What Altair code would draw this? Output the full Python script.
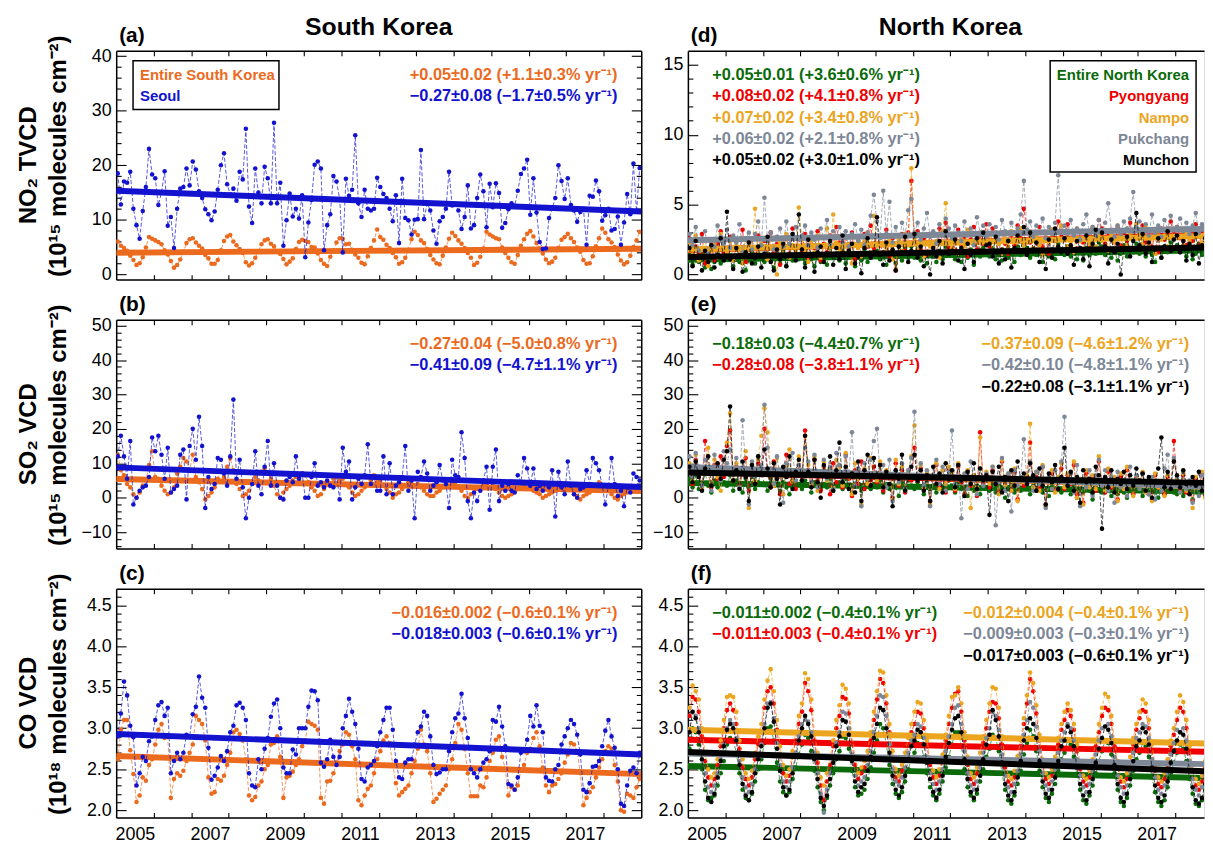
import altair as alt
import pandas as pd

FONT = "Liberation Sans"

# ---------------- time axis ----------------
YEARS = list(range(2005, 2019))
MONTHS = list(range(12))
TIME = [y + (m + 0.5) / 12 for y in YEARS for m in MONTHS]
LABEL_YEARS = [2005, 2007, 2009, 2011, 2013, 2015, 2017]
TICK_YEARS = list(range(2006, 2019))
TREND_T = [2005.0, 2019.0]

# ---------------- colours ----------------
C_SK, C_SE = "#EB6A1E", "#1212CF"
C_NK, C_PY, C_NA, C_PU, C_MU = "#0A6A0A", "#F00000", "#EBA51E", "#7D8796", "#000000"

# ---------------- (a) NO2 South Korea ----------------
SK_NO2 = [
    6.0, 5.2, 4.8, 4.3, 3.4, 2.6, 1.7, 2.0, 3.1, 4.9, 6.8, 6.5,
    6.2, 5.9, 5.5, 4.4, 3.6, 2.4, 1.2, 1.7, 2.7, 4.1, 5.7, 6.4,
    6.6, 5.8, 5.2, 4.7, 3.5, 2.9, 1.9, 1.9, 2.6, 4.4, 6.1, 6.9,
    7.2, 6.0, 5.3, 4.6, 3.9, 2.2, 1.6, 2.0, 3.0, 4.2, 5.5, 6.2,
    6.4, 5.6, 5.1, 4.2, 3.7, 2.8, 1.8, 2.3, 2.9, 4.6, 5.9, 6.3,
    6.1, 5.9, 5.0, 4.9, 3.8, 2.6, 1.9, 1.5, 3.2, 4.3, 5.8, 6.6,
    6.5, 5.5, 5.6, 4.5, 3.6, 3.0, 2.1, 1.8, 3.3, 4.8, 6.2, 8.2,
    6.8, 6.3, 5.4, 4.8, 3.9, 3.1, 1.9, 2.2, 3.0, 4.5, 6.4, 7.8,
    7.2, 6.2, 5.7, 4.6, 3.5, 2.7, 2.0, 1.8, 3.4, 4.9, 6.5, 7.6,
    7.0, 6.2, 5.6, 4.8, 3.9, 3.0, 1.7, 2.1, 3.2, 4.7, 7.8, 7.3,
    6.9, 6.6, 6.4, 4.9, 3.9, 3.0, 2.2, 1.9, 3.5, 5.2, 6.4, 7.4,
    7.9, 6.9, 5.7, 4.7, 3.8, 2.7, 2.0, 2.3, 3.0, 4.8, 6.3, 6.8,
    7.4, 6.6, 5.9, 4.9, 4.1, 2.6, 1.9, 2.0, 3.3, 5.1, 6.6, 8.4,
    7.6, 6.4, 5.8, 5.0, 3.6, 2.5, 1.8, 2.2, 3.4, 5.0, 6.2, 7.8,
]
SEOUL_NO2 = [
    18.5, 12.8, 17.0, 16.8, 18.8, 12.0, 9.0, 6.5, 11.6, 16.0, 23.0, 18.3,
    17.6, 12.7, 15.0, 18.9, 8.9, 10.5, 4.8, 12.0, 15.7, 16.0, 19.4, 16.3,
    20.7, 19.2, 15.2, 14.0, 11.9, 11.0, 9.9, 11.5, 15.5, 20.0, 22.2, 16.5,
    14.6, 15.7, 13.5, 18.8, 17.4, 26.7, 12.4, 9.4, 19.4, 15.0, 13.0, 19.7,
    17.6, 13.0, 27.8, 13.0, 16.8, 5.2, 9.9, 14.8, 10.6, 12.0, 10.2, 14.5,
    3.1, 9.5, 13.6, 20.1, 20.7, 19.4, 4.4, 9.0, 11.0, 18.0, 17.0, 13.8,
    4.0, 17.5, 14.4, 15.5, 25.5, 13.0, 10.5, 15.5, 12.0, 11.7, 12.0, 17.7,
    16.0, 14.7, 14.0, 12.0, 9.7, 14.5, 5.7, 17.5, 10.3, 9.9, 7.3, 10.0,
    10.1, 22.8, 10.1, 13.0, 11.7, 8.0, 5.6, 9.7, 10.5, 12.0, 18.8, 12.6,
    12.9, 11.7, 8.3, 10.5, 16.3, 8.4, 9.0, 14.0, 18.3, 15.2, 8.6, 16.6,
    12.3, 16.7, 14.9, 8.5, 9.4, 11.9, 13.0, 12.5, 15.3, 18.4, 19.4, 21.0,
    10.9, 17.6, 11.3, 5.9, 4.6, 4.7, 10.3, 12.0, 14.0, 20.0, 17.1, 13.8,
    17.6, 12.7, 11.7, 9.6, 11.4, 12.0, 5.4, 14.4, 14.2, 17.2, 15.2, 9.8,
    10.8, 12.0, 8.0, 8.3, 10.6, 5.4, 9.5, 14.7, 11.0, 20.3, 11.5, 19.5,
]

# ---------------- (b) SO2 South Korea ----------------
SK_SO2 = [
    12.5, 8.0, 6.5, 4.0, 3.0, 1.0, 0.0, 1.5, 3.5, 5.0, 9.5, 13.5,
    6.0, 5.5, 3.5, 2.0, 1.0, 1.5, 3.0, 7.0, 9.0, 11.5, 10.5, 8.0,
    12.5, 6.0, 4.5, 2.5, -0.5, 0.5, 1.5, 3.0, 5.5, 7.5, 6.0, 9.0,
    11.5, 8.0, 4.0, 2.5, 0.5, 1.0, 2.0, 4.5, 6.0, 5.0, 7.5, 8.5,
    7.0, 5.5, 3.5, 1.0, 0.0, 1.5, 2.5, 3.5, 5.0, 6.0, 4.5, 7.0,
    6.5, 4.5, 3.0, 2.0, 0.5, 1.0, 2.5, 4.0, 3.5, 5.5, 6.0, 5.0,
    5.5, 4.0, 3.0, 1.5, 0.5, 1.0, 2.0, 3.0, 4.0, 5.0, 6.5, 4.5,
    5.0, 3.5, 2.5, 1.5, 0.0, 1.0, 1.5, 2.5, 3.5, 4.5, 4.0, 5.5,
    4.0, 3.0, 2.0, 1.0, 0.5, 0.5, 1.5, 2.0, 3.0, 4.0, 3.5, 4.5,
    4.5, 3.0, 2.0, 0.5, 0.0, 1.0, 1.5, 2.5, 3.0, 3.5, 4.0, 5.0,
    3.5, 2.5, 1.5, 0.5, 0.0, 0.5, 1.0, 2.0, 2.5, 3.0, 3.5, 4.5,
    3.0, 2.0, 1.5, 1.0, 0.0, 0.5, 1.0, 1.5, 2.0, 3.0, 2.5, 3.5,
    3.0, 2.5, 1.0, 0.5, -0.5, 0.5, 1.0, 1.5, 2.5, 3.0, 4.5, 3.5,
    2.5, 2.0, 1.0, 0.0, -0.5, 0.5, 1.0, 1.5, 2.5, 3.0, 2.0, 2.5,
]
SEOUL_SO2 = [
    12.0, 18.0, 12.0, 5.5, 16.5, -2.0, 0.0, 2.0, 3.0, 3.5, 6.0, 17.5,
    13.5, 18.0, 12.5, 5.5, 14.5, 1.5, 2.5, 3.5, 12.5, 14.0, -0.5, 15.0,
    20.0, 11.0, 23.5, 15.0, -3.0, 6.0, 2.5, 4.0, 11.5, 11.0, 7.0, 3.5,
    12.0, 28.5, 5.5, 11.0, 3.0, -6.0, 0.0, 4.0, 13.5, 3.5, 1.0, 9.0,
    16.5, 3.5, 10.0, 3.5, 0.0, -0.5, 5.0, 6.0, 4.5, 12.0, 5.5, 7.0,
    0.0, 0.0, 6.0, 10.0, 3.5, 4.5, 3.0, 5.0, 3.5, 3.0, 6.5, -0.5,
    14.5, 7.5, 10.5, -0.5, 3.0, 5.5, 4.0, 6.5, 15.5, 4.0, 6.0, 2.0,
    2.0, 12.0, 1.0, 10.0, 1.0, 3.5, 4.5, 6.0, 15.0, 2.0, 5.0, -6.0,
    7.5, 6.0, 10.5, 7.0, 2.0, 3.5, 4.5, 9.5, 5.0, 4.0, -3.0, 11.0,
    6.5, 6.0, 19.0, 11.5, -1.0, -6.0, 1.5, -1.0, 2.0, 5.0, 9.0, -3.5,
    9.0, 14.0, -1.0, 3.5, 2.0, 4.0, 2.0, 1.5, 6.5, 4.5, 11.5, 8.5,
    3.5, 8.5, 2.5, 3.5, 2.0, 4.0, 3.0, 8.0, -5.5, 7.5, 3.0, 1.0,
    10.5, 3.5, 1.0, 0.0, 2.5, 3.0, 8.0, 4.0, 11.5, 10.0, 8.0, 3.5,
    -2.0, 3.5, 11.5, 4.0, 0.5, 2.0, -2.5, 3.0, 1.5, 7.0, 6.0, 5.0,
]

# ---------------- (c) CO South Korea ----------------
SK_CO = [
    2.62, 2.98, 3.10, 3.10, 2.73, 2.44, 2.10, 2.18, 2.40, 2.36, 2.55, 2.62,
    2.80, 2.98, 3.05, 2.88, 2.90, 2.15, 2.38, 2.45, 2.42, 2.48, 2.60, 2.70,
    2.80, 3.15, 3.10, 3.05, 2.85, 2.40, 2.20, 2.22, 2.38, 2.36, 2.42, 2.55,
    2.70, 2.95, 2.98, 2.93, 2.85, 2.62, 2.18, 2.12, 2.16, 2.30, 2.35, 2.50,
    2.55, 2.80, 2.82, 2.90, 2.65, 2.15, 2.40, 2.42, 2.47, 2.55, 2.62, 2.78,
    2.85, 3.08, 3.05, 3.03, 2.98, 2.15, 2.08, 2.35, 2.36, 2.45, 2.58, 2.72,
    2.80, 2.95, 2.92, 2.78, 2.62, 2.12, 2.06, 2.18, 2.26, 2.30, 2.45, 2.62,
    2.72, 2.85, 2.90, 2.82, 2.55, 2.33, 2.18, 2.22, 2.26, 2.30, 2.45, 2.60,
    2.75, 2.98, 2.80, 2.72, 2.45, 2.10, 2.14, 2.20, 2.25, 2.30, 2.50, 2.62,
    2.82, 3.05, 2.98, 2.75, 2.45, 2.17, 2.17, 2.17, 2.30, 2.28, 2.40, 2.60,
    2.70, 2.86, 2.90, 2.65, 2.50, 2.18, 2.28, 2.25, 2.30, 2.48, 2.55, 2.70,
    2.75, 2.88, 2.95, 2.78, 2.52, 2.30, 2.22, 2.30, 2.32, 2.38, 2.45, 2.58,
    2.68, 2.82, 2.80, 2.72, 2.45, 2.06, 2.15, 2.22, 2.28, 2.40, 2.52, 2.62,
    2.72, 2.78, 2.75, 2.55, 2.35, 2.00, 1.98, 2.20, 2.18, 2.15, 2.28, 2.38,
]
SEOUL_CO = [
    2.90, 3.18, 3.57, 3.40, 3.03, 2.89, 2.30, 2.45, 2.65, 2.60, 2.84, 2.90,
    3.10, 3.28, 3.32, 3.15, 3.25, 2.45, 2.60, 2.70, 2.62, 2.70, 2.92, 2.90,
    3.17, 3.26, 3.63, 3.37, 3.25, 2.76, 2.37, 2.42, 2.52, 2.66, 2.60, 2.72,
    2.95, 3.03, 3.28, 3.31, 3.25, 3.10, 2.45, 2.30, 2.28, 2.62, 2.50, 2.75,
    2.88, 3.14, 3.30, 3.35, 3.00, 2.52, 2.45, 2.45, 2.74, 2.68, 3.00, 3.00,
    3.00, 3.26, 3.46, 3.45, 3.34, 2.58, 2.53, 2.62, 2.86, 2.65, 2.55, 2.65,
    3.00, 3.15, 3.36, 3.20, 3.05, 2.75, 2.38, 2.35, 2.52, 2.55, 2.60, 2.78,
    2.95, 3.10, 3.25, 3.25, 2.98, 2.60, 2.40, 2.38, 2.58, 2.62, 2.62, 2.80,
    2.95, 3.02, 3.20, 3.15, 2.90, 2.55, 2.44, 2.46, 2.50, 2.50, 2.72, 2.95,
    3.12, 3.18, 3.42, 3.12, 2.88, 2.50, 2.45, 2.40, 2.50, 2.58, 2.62, 2.72,
    3.10, 3.08, 3.26, 3.02, 2.78, 2.32, 2.30, 2.25, 2.40, 2.70, 2.72, 2.86,
    3.15, 3.02, 3.28, 3.03, 2.95, 2.40, 2.36, 2.35, 2.50, 2.55, 2.80, 2.90,
    3.00, 3.10, 3.05, 2.92, 2.68, 2.25, 2.22, 2.33, 2.53, 2.54, 2.60, 2.78,
    2.97, 3.10, 2.90, 2.76, 2.50, 2.08, 2.05, 2.30, 2.48, 2.52, 2.45, 2.70,
]

# ---------------- (d) NO2 North Korea ----------------
NK_NO2 = [
    1.4, 0.7, 1.3, 0.9, 1.6, 0.5, 1.1, 0.4, 0.9, 1.5, 0.8, 1.7,
    1.2, 1.8, 0.6, 1.3, 0.9, 1.4, 0.3, 1.0, 1.6, 0.8, 1.3, 1.9,
    0.9, 1.5, 1.2, 0.5, 1.4, 0.8, 1.7, 0.6, 1.2, 1.0, 1.8, 1.1,
    1.6, 0.8, 1.4, 1.1, 0.6, 1.5, 0.9, 1.3, 0.7, 1.9, 1.2, 1.5,
    1.0, 1.7, 0.8, 1.5, 1.2, 0.6, 1.4, 1.0, 1.8, 0.9, 1.6, 1.3,
    1.7, 1.1, 1.5, 0.7, 1.3, 1.6, 0.8, 1.4, 1.0, 1.9, 1.2, 2.0,
    1.2, 1.8, 1.0, 1.5, 0.8, 1.6, 1.3, 0.9, 1.7, 1.1, 2.0, 1.4,
    1.8, 1.1, 1.6, 0.9, 1.4, 1.2, 1.8, 0.7, 1.5, 1.3, 1.9, 1.6,
    1.3, 1.9, 1.1, 1.6, 1.0, 1.7, 1.2, 1.5, 0.9, 2.0, 1.4, 2.1,
    1.9, 1.2, 1.7, 1.4, 2.1, 0.9, 1.6, 1.3, 1.8, 1.1, 2.2, 1.5,
    1.4, 2.0, 1.3, 1.8, 1.1, 1.6, 1.0, 1.9, 1.4, 2.1, 1.5, 2.3,
    2.0, 1.4, 1.8, 1.2, 1.7, 1.0, 1.5, 2.1, 1.3, 1.9, 1.6, 2.2,
    1.5, 2.1, 1.3, 1.9, 1.4, 0.9, 1.8, 1.2, 2.0, 1.6, 2.3, 1.7,
    2.1, 1.6, 1.9, 1.3, 1.8, 1.1, 1.5, 2.2, 1.4, 1.9, 1.7, 2.4,
]
PY_NO2 = [
    2.6, 1.2, 2.0, 1.5, 2.9, 0.8, 1.7, 2.3, 1.0, 2.2, 3.1, 1.6,
    1.9, 2.7, 1.1, 2.4, 1.4, 3.2, 0.9, 1.8, 2.5, 1.3, 2.8, 2.0,
    2.4, 1.3, 3.0, 1.6, 2.2, 0.7, 1.9, 2.7, 1.5, 3.3, 1.8, 2.6,
    1.7, 2.9, 1.2, 2.5, 1.9, 3.1, 1.0, 2.2, 1.6, 2.8, 2.1, 3.4,
    2.3, 1.5, 2.7, 1.8, 3.0, 1.1, 2.4, 1.4, 2.9, 2.0, 3.5, 1.9,
    2.8, 2.1, 1.6, 3.2, 1.3, 2.6, 0.3, 2.0, 2.9, 1.7, 3.0, 6.7,
    2.2, 3.1, 1.8, 2.6, 1.4, 2.9, 2.0, 1.5, 3.3, 2.3, 3.7, 1.9,
    2.9, 1.7, 3.2, 2.1, 2.7, 1.3, 2.5, 3.4, 1.8, 2.8, 2.2, 3.6,
    2.0, 3.3, 2.4, 1.6, 3.0, 2.2, 1.5, 2.8, 2.1, 3.5, 2.6, 4.7,
    3.1, 2.3, 2.9, 1.8, 3.4, 2.0, 2.6, 1.5, 3.2, 2.4, 3.8, 2.7,
    2.5, 3.6, 2.0, 2.9, 1.7, 3.1, 2.3, 2.7, 1.9, 3.3, 2.8, 3.9,
    3.3, 2.2, 3.0, 2.5, 1.8, 3.4, 2.1, 2.9, 2.4, 3.7, 2.6, 3.2,
    2.7, 3.5, 2.3, 3.1, 2.0, 2.8, 1.6, 3.3, 2.5, 3.0, 3.8, 2.9,
    3.4, 2.6, 3.2, 2.1, 2.9, 2.4, 3.6, 2.0, 3.1, 2.7, 3.5, 4.0,
]
NA_NO2 = [
    2.3, 1.4, 2.8, 1.0, 1.9, 2.5, 0.6, 1.7, 2.2, 1.2, 2.9, 1.8,
    1.6, 2.4, 1.0, 2.1, 1.7, 0.8, 2.6, 1.3, 1.9, 4.7, 1.5, 2.2,
    2.0, 1.1, 2.6, 1.8, 0.0, 2.3, 1.5, 2.9, 1.2, 2.1, 1.7, 4.8,
    2.5, 1.7, 0.9, 2.4, 1.6, 2.8, 1.2, 2.0, 3.3, 1.4, 4.3, 2.3,
    1.8, 2.6, 1.4, 2.1, 0.8, 2.7, 1.9, 1.3, 2.4, 3.0, 1.6, 4.2,
    2.2, 1.5, 2.8, 1.9, 2.4, 1.1, 0.4, 2.5, 1.7, 2.9, 2.1, 7.6,
    2.6, 1.8, 2.3, 1.3, 2.9, 2.0, 1.6, 2.4, 1.2, 3.1, 5.1, 2.2,
    1.9, 2.7, 1.5, 2.5, 2.0, 3.2, 1.4, 2.2, 2.8, 1.7, 3.0, 2.4,
    2.8, 1.6, 3.0, 2.2, 1.5, 2.6, 2.0, 3.1, 1.8, 2.5, 3.3, 2.1,
    2.3, 3.1, 1.9, 2.7, 2.1, 1.4, 2.9, 2.3, 3.2, 1.7, 2.6, 3.5,
    3.0, 2.0, 2.5, 1.6, 3.3, 2.4, 1.8, 2.7, 2.2, 3.4, 2.0, 2.9,
    2.4, 3.2, 1.7, 2.9, 2.3, 3.5, 1.9, 2.6, 2.1, 3.0, 2.7, 3.6,
    2.9, 2.2, 3.4, 2.0, 2.6, 1.5, 3.1, 2.5, 2.8, 2.0, 3.3, 2.6,
    2.6, 3.3, 2.1, 3.0, 2.4, 1.9, 2.8, 3.2, 2.3, 3.5, 2.7, 3.1,
]
PU_NO2 = [
    2.9, 2.1, 3.4, 1.7, 2.6, 3.1, 1.5, 2.4, 2.0, 3.5, 2.7, 2.2,
    3.2, 1.9, 2.8, 2.3, 3.6, 1.6, 2.5, 3.0, 1.8, 2.9, 3.8, 2.1,
    5.5, 2.4, 3.0, 1.8, 2.7, 3.3, 2.0, 3.8, 2.2, 2.9, 3.4, 2.5,
    2.8, 3.5, 2.1, 3.0, 2.5, 1.9, 3.3, 2.6, 3.9, 2.2, 3.1, 2.7,
    3.4, 2.3, 3.1, 2.0, 2.9, 3.6, 2.4, 3.2, 2.1, 3.0, 4.2, 5.7,
    3.8, 2.6, 6.0, 2.9, 5.2, 2.3, 3.4, 2.0, 3.7, 2.8, 4.6, 5.4,
    3.0, 3.7, 2.5, 3.3, 4.4, 2.7, 3.1, 2.2, 3.6, 2.9, 4.0, 3.3,
    2.6, 3.5, 3.0, 2.4, 3.8, 2.8, 3.3, 2.1, 4.1, 3.0, 3.5, 2.7,
    3.6, 2.9, 3.4, 2.5, 3.9, 3.1, 2.4, 3.7, 2.9, 3.3, 4.3, 6.7,
    3.2, 3.8, 2.7, 3.5, 3.0, 4.0, 2.6, 3.4, 2.9, 3.7, 7.1, 3.1,
    3.5, 2.9, 3.9, 2.8, 3.3, 2.5, 3.6, 4.3, 3.0, 3.4, 2.8, 3.9,
    3.0, 3.7, 5.1, 3.2, 2.7, 3.5, 2.9, 3.8, 3.3, 4.0, 5.9, 3.4,
    3.8, 3.1, 3.6, 2.8, 4.3, 3.0, 3.5, 2.7, 3.9, 3.3, 4.2, 3.2,
    3.4, 4.0, 3.1, 3.7, 2.9, 3.5, 4.4, 3.0, 3.6, 3.2, 4.1, 3.8,
]
MU_NO2 = [
    1.9, 0.6, 2.4, 1.2, 0.3, 1.7, 0.9, 2.1, 0.5, 1.4, 2.6, 1.0,
    4.5, 1.1, 0.4, 1.9, 1.3, 0.2, 1.6, 2.3, 0.8, 1.2, 2.0, 0.5,
    1.5, 2.7, 0.9, 0.3, 1.8, 1.1, 2.2, 0.6, 1.4, 2.9, 1.0, 4.3,
    1.8, 0.5, 2.5, 1.3, 0.2, 1.6, 2.0, 0.9, 1.5, 2.4, 0.7, 1.9,
    1.1, 2.8, 0.4, 1.7, 2.2, 0.8, 1.3, 0.1, 1.9, 2.6, 1.2, 1.6,
    4.1, 1.4, 0.7, 2.3, 1.0, 1.8, 0.3, 2.0, 1.5, 2.7, 0.9, 1.7,
    2.9, 1.2, 2.0, 0.6, 1.6, 0.0, 1.9, 1.3, 2.4, 0.8, 3.1, 1.5,
    1.7, 2.5, 1.0, 1.9, 0.4, 2.2, 1.4, 0.9, 2.6, 1.6, 3.0, 2.1,
    2.2, 1.3, 2.7, 0.8, 1.8, 1.1, 2.4, 0.5, 1.9, 2.8, 1.6, 3.4,
    1.4, 3.0, 1.8, 2.3, 0.9, 1.7, 0.4, 2.5, 1.2, 3.3, 2.0, 1.6,
    2.6, 1.5, 2.1, 0.7, 2.4, 1.9, 1.1, 2.8, 0.6, 2.2, 3.2, 1.8,
    3.0, 2.0, 0.8, 2.5, 1.6, 2.2, 0.0, 1.8, 2.7, 1.3, 2.4, 4.4,
    2.1, 2.9, 1.5, 2.3, 0.9, 1.8, 2.6, 1.2, 2.0, 3.1, 1.7, 2.5,
    2.8, 1.6, 2.4, 1.0, 2.2, 1.4, 2.9, 0.8, 2.1, 2.6, 1.9, 3.3,
]

# ---------------- (e) SO2 North Korea ----------------
NK_SO2 = [
    5.5, 3.0, 6.5, 2.5, 4.0, 7.0, 3.5, 1.5, 5.0, 3.0, 6.0, 4.5,
    3.5, 6.5, 2.0, 5.0, 4.0, 1.5, 5.5, 3.0, 6.0, 2.5, 4.5, 7.5,
    4.0, 2.0, 5.5, 3.5, 6.0, 2.0, 4.5, 3.0, 1.0, 5.0, 3.5, 6.5,
    2.5, 5.0, 3.5, 1.5, 4.5, 6.0, 2.5, 4.0, 3.0, 5.5, 2.0, 4.0,
    4.5, 2.5, 5.5, 3.0, 1.5, 4.0, 6.0, 2.0, 3.5, 5.0, 2.5, 4.0,
    3.0, 5.0, 1.5, 4.0, 2.5, 5.5, 3.0, 0.5, 4.5, 2.0, 5.0, 3.5,
    2.5, 4.5, 3.0, 1.0, 5.0, 2.5, 3.5, 1.5, 4.0, 3.0, 2.0, 5.0,
    3.5, 1.5, 4.5, 2.5, 3.0, 0.5, 4.0, 2.0, 3.5, 1.0, 4.5, 3.0,
    2.0, 4.0, 1.5, 3.5, 2.5, 0.0, 3.0, 4.5, 1.5, 3.0, 2.0, 4.0,
    3.0, 1.0, 3.5, 2.0, 4.0, 1.5, 2.5, 0.5, 3.5, 2.5, 4.5, 1.5,
    2.5, 3.5, 1.0, 3.0, 0.0, 2.5, 1.5, 3.5, 2.0, -0.5, 3.0, 2.0,
    1.5, 3.0, 2.0, 0.5, 2.5, 1.0, 3.5, 1.5, 0.0, 2.5, 1.5, 3.0,
    2.5, 0.5, 2.0, 1.0, 3.0, 1.5, 0.0, 2.5, 1.0, 2.0, 3.5, 1.5,
    1.0, 2.5, 0.5, 2.0, 1.5, -0.5, 2.5, 1.0, 3.0, 0.5, 2.0, 1.5,
]
PY_SO2 = [
    8.5, 4.0, 11.0, 6.0, 2.5, 16.5, 7.5, 3.0, 9.5, 5.5, 12.0, 6.0,
    15.0, 19.5, 5.0, 9.0, 3.5, 7.0, 11.5, 2.0, 8.0, 4.5, 10.0, 6.5,
    20.0, 7.5, 3.0, 10.5, 5.5, 1.0, 8.5, 12.5, 4.0, 7.0, 2.5, 9.5,
    6.0, 19.5, 8.0, 3.5, 11.0, 5.0, 2.0, 9.0, 6.5, 1.0, 10.0, 4.5,
    7.5, 3.0, 12.5, 5.5, 0.5, 8.0, 4.0, 10.5, 2.5, 7.0, 5.0, 9.0,
    4.5, 9.5, 2.0, 7.5, 6.0, 0.0, 10.0, 3.5, 8.0, 1.5, 6.5, 5.0,
    14.5, 5.0, 8.5, 2.5, 7.0, -1.0, 5.5, 9.5, 3.0, 6.0, 1.5, 8.0,
    6.5, 2.0, 9.0, 4.5, 1.0, 7.5, 3.5, 5.5, 0.5, 19.0, 4.0, 6.0,
    3.0, 8.0, 5.0, 1.5, 10.5, 4.0, 6.5, 2.0, 7.5, -0.5, 5.0, 3.5,
    5.5, 16.0, 2.5, 6.0, 3.0, 9.0, -2.0, 4.5, 7.0, 2.0, 5.5, 8.5,
    2.5, 6.5, 4.0, 9.5, 1.0, 5.0, -1.5, 7.0, 3.5, 6.0, 2.0, 10.5,
    4.5, 1.5, 7.5, 3.0, 5.5, -0.5, 6.0, 2.5, 8.0, 4.0, 1.0, 5.5,
    3.5, 7.0, 2.0, 5.0, -0.5, 6.5, 3.0, 4.5, 1.0, 6.0, 2.5, 16.5,
    5.0, 2.0, 6.5, 1.5, 4.0, -1.0, 5.5, 3.0, 7.0, 0.5, 4.5, 2.5,
]
NA_SO2 = [
    10.0, 5.0, 12.5, 7.0, 3.0, 9.0, 14.5, 4.5, 11.0, 6.0, 2.0, 8.5,
    16.0, 24.5, 6.5, 10.0, 3.0, 8.0, 13.5, -3.0, 9.5, 5.0, 11.0, 18.0,
    26.0, 19.0, 7.5, 3.5, 11.5, 6.0, 1.0, 9.0, 14.0, 4.5, 8.0, 12.0,
    7.0, 18.0, 9.5, 4.0, 12.0, 2.0, 6.5, 10.5, 5.0, 8.5, 3.0, 11.0,
    9.0, 3.5, 13.0, 6.0, 1.0, 10.0, 5.5, -2.0, 8.5, 4.0, 11.5, 7.0,
    5.0, 10.5, 3.0, 8.0, 6.5, -0.5, 11.0, 4.0, 9.0, 2.0, 7.5, 12.0,
    21.0, 6.0, 9.5, 3.0, 7.5, -2.0, 6.0, 10.0, 2.5, 8.0, 4.0, 9.0,
    7.0, 2.5, 10.0, 5.0, 0.5, 8.0, -3.0, 6.5, 3.0, 17.5, 5.0, 7.5,
    4.0, 9.0, 5.5, 1.0, 11.0, 3.5, 7.0, 2.0, 8.5, -1.0, 6.0, 4.5,
    6.5, 21.5, 3.0, 7.5, 2.0, 9.5, -2.5, 5.0, 8.0, 1.5, 6.0, 10.0,
    3.0, 7.0, 4.5, 10.5, 0.0, 5.5, -2.0, 8.0, 3.0, 6.5, 2.5, 12.0,
    5.0, 2.0, 8.5, 3.5, 6.0, -1.0, 7.0, 2.5, 9.0, 4.0, 0.5, 6.0,
    4.0, 7.5, 1.5, 5.5, -1.0, 7.0, 3.0, 5.0, 0.5, 6.5, 3.5, 11.0,
    5.5, 1.5, 7.0, 2.0, 4.5, -3.0, 6.0, 3.0, 7.5, 0.0, 5.0, 2.5,
]
PU_SO2 = [
    12.0, 6.0, 13.0, 8.0, 3.5, 11.0, 7.5, 2.0, 12.5, 9.0, 5.0, 13.5,
    10.0, 14.0, 6.5, 11.5, 3.0, 22.5, 8.0, -2.0, 10.5, 6.0, 12.0, 9.5,
    27.0, 14.5, 8.5, 4.0, 12.0, 6.5, -1.5, 10.0, 7.0, 13.0, 5.0, 9.5,
    8.0, 14.5, 10.5, 4.5, 12.5, 3.0, 7.0, 11.0, 5.5, 9.0, 2.5, 13.0,
    9.5, 5.0, 12.0, 6.5, 19.0, 3.5, 8.5, -2.5, 10.0, 5.5, 11.0, 16.5,
    20.0, 6.5, 9.5, 3.0, 11.0, -1.0, 7.5, 4.5, 10.0, 2.5, 8.0, 11.5,
    25.0, 5.5, 10.0, 3.5, 8.0, -2.5, 6.5, 11.0, 4.0, 9.0, 2.0, 7.5,
    19.5, 4.0, 9.5, -6.0, 7.0, 2.5, 10.5, 5.0, 1.0, 8.5, 3.5, 7.0,
    6.0, 9.0, -8.0, 4.5, 11.5, 2.0, 7.0, -4.0, 8.0, 3.5, 6.0, 17.0,
    5.0, 10.5, 2.0, 7.5, 4.0, 9.0, -3.0, 6.0, 2.5, 8.0, 4.5, 10.5,
    23.5, 4.0, 7.0, 1.5, 9.5, -2.5, 5.5, 3.0, 8.0, 0.5, 6.5, 11.0,
    3.5, 8.0, 2.0, 6.0, -1.5, 7.5, 3.0, 5.0, 0.5, 9.0, 4.0, 6.5,
    2.5, 7.0, 4.0, 1.0, 6.0, -0.5, 5.0, 2.0, 8.5, 12.5, 3.5, 11.5,
    6.0, 1.5, 7.5, 2.5, 5.0, -1.5, 4.0, 0.5, 6.5, 3.0, 5.5, 2.0,
]
MU_SO2 = [
    9.0, 4.5, 10.5, 6.0, 2.0, 8.5, 12.0, 3.5, 7.0, 10.0, 5.5, 11.0,
    13.5, 26.5, 5.0, 8.0, 2.5, 10.5, 6.0, -1.0, 9.5, 4.0, 12.0, 7.0,
    14.0, 8.5, 3.0, 10.0, 5.5, -2.0, 9.0, 6.0, 12.0, 2.5, 7.5, 11.0,
    5.0, 18.0, 7.5, 3.0, 11.0, 4.5, 0.0, 9.5, 6.0, 12.0, 2.0, 8.0,
    16.0, 4.5, 9.0, 2.5, 7.0, 1.5, 10.5, -1.0, 8.0, 12.5, 3.5, 11.5,
    6.5, 9.5, 3.0, 7.5, 4.0, -2.5, 8.0, 5.5, 12.5, 2.0, 6.0, 9.0,
    12.5, 5.0, 8.0, 2.0, 6.5, -1.0, 9.0, 4.0, 7.0, 1.5, 10.0, 5.5,
    8.0, 3.0, 9.5, 5.0, 0.5, 7.5, 4.0, 10.0, 2.5, 8.5, 5.0, 6.5,
    -5.0, 7.5, 4.0, 9.0, 1.5, 6.0, -1.0, 8.0, 3.5, 10.5, 5.5, 7.0,
    4.0, 10.0, 6.5, 2.0, 8.5, 3.5, -2.0, 7.0, 4.5, 9.5, 2.5, 6.0,
    14.5, 3.5, 7.5, 2.0, 6.0, -1.5, 8.0, 4.5, 5.5, 1.5, 9.0, 6.5,
    -9.0, 6.0, 3.0, 8.0, 1.5, 5.5, 4.0, 7.5, 2.5, 6.5, 3.5, 8.5,
    5.0, 7.0, 2.0, 6.0, 0.0, 4.5, 8.5, 17.5, 3.0, 7.5, 2.5, 10.5,
    6.5, 3.0, 8.0, 4.0, 1.0, 6.0, 3.5, 7.5, 2.0, 5.5, 4.0, 7.0,
]

# ---------------- (f) CO North Korea ----------------
NK_CO = [
    2.75, 3.00, 2.95, 2.80, 2.50, 2.25, 2.12, 2.15, 2.18, 2.30, 2.45, 2.60,
    2.80, 2.88, 2.85, 2.70, 2.45, 2.25, 2.15, 2.12, 2.20, 2.35, 2.50, 2.62,
    2.82, 3.00, 3.02, 2.85, 2.58, 2.35, 2.22, 2.18, 2.22, 2.38, 2.52, 2.68,
    2.80, 2.92, 2.88, 2.72, 2.48, 2.28, 2.10, 2.00, 2.15, 2.30, 2.45, 2.62,
    2.72, 2.90, 2.88, 2.75, 2.48, 2.28, 2.18, 2.20, 2.25, 2.38, 2.52, 2.70,
    2.85, 3.05, 3.00, 2.80, 2.55, 2.32, 2.20, 2.15, 2.22, 2.35, 2.50, 2.62,
    2.70, 2.82, 2.80, 2.65, 2.45, 2.28, 2.18, 2.12, 2.20, 2.35, 2.52, 2.65,
    2.80, 2.95, 2.95, 2.78, 2.50, 2.28, 2.18, 2.12, 2.20, 2.35, 2.50, 2.65,
    2.75, 2.92, 2.88, 2.72, 2.45, 2.25, 2.12, 2.08, 2.18, 2.32, 2.48, 2.68,
    2.82, 2.98, 2.90, 2.72, 2.48, 2.28, 2.15, 2.10, 2.20, 2.32, 2.48, 2.62,
    2.70, 2.85, 2.80, 2.65, 2.42, 2.25, 2.12, 2.08, 2.18, 2.30, 2.45, 2.60,
    2.72, 2.85, 2.82, 2.68, 2.45, 2.25, 2.10, 2.05, 2.15, 2.30, 2.48, 2.62,
    2.70, 2.82, 2.78, 2.65, 2.40, 2.22, 2.10, 2.05, 2.12, 2.28, 2.45, 2.58,
    2.70, 2.80, 2.75, 2.60, 2.38, 2.20, 2.08, 2.05, 2.12, 2.25, 2.42, 2.55,
]
PY_CO = [
    3.15, 3.38, 3.35, 3.20, 2.90, 2.60, 2.40, 2.30, 2.38, 2.55, 2.78, 3.00,
    3.22, 3.30, 3.22, 3.05, 2.75, 2.52, 2.38, 2.30, 2.40, 2.62, 2.80, 2.95,
    3.25, 3.45, 3.50, 3.30, 2.98, 2.68, 2.45, 2.35, 2.42, 2.65, 2.85, 3.05,
    3.20, 3.55, 3.45, 3.22, 2.85, 2.58, 2.30, 2.12, 2.35, 2.55, 2.78, 3.00,
    3.15, 3.38, 3.36, 3.18, 2.82, 2.55, 2.38, 2.45, 2.52, 2.65, 2.85, 3.10,
    3.35, 3.60, 3.55, 3.30, 2.95, 2.62, 2.40, 2.35, 2.48, 2.62, 2.80, 2.95,
    3.05, 3.20, 3.18, 3.00, 2.78, 2.55, 2.40, 2.32, 2.42, 2.60, 2.85, 3.05,
    3.25, 3.42, 3.45, 3.20, 2.85, 2.55, 2.38, 2.32, 2.45, 2.62, 2.82, 3.00,
    3.20, 3.32, 3.30, 3.12, 2.80, 2.52, 2.35, 2.30, 2.40, 2.58, 2.78, 3.05,
    3.30, 3.60, 3.45, 3.18, 2.85, 2.55, 2.38, 2.32, 2.42, 2.58, 2.80, 2.98,
    3.10, 3.22, 3.15, 2.98, 2.72, 2.50, 2.35, 2.30, 2.40, 2.55, 2.78, 2.95,
    3.15, 3.25, 3.22, 3.05, 2.78, 2.52, 2.35, 2.28, 2.38, 2.58, 2.80, 2.98,
    3.12, 3.22, 3.20, 3.00, 2.72, 2.48, 2.32, 2.28, 2.38, 2.55, 2.78, 2.92,
    3.10, 3.25, 3.20, 3.00, 2.70, 2.48, 2.30, 2.25, 2.35, 2.52, 2.72, 2.88,
]
NA_CO = [
    3.25, 3.52, 3.45, 3.35, 3.00, 2.70, 2.50, 2.40, 2.45, 2.62, 2.85, 3.10,
    3.38, 3.40, 3.38, 3.20, 2.85, 2.62, 2.45, 2.38, 2.48, 2.70, 2.90, 3.05,
    3.35, 3.58, 3.72, 3.45, 3.10, 2.78, 2.55, 2.42, 2.50, 2.72, 2.95, 3.15,
    3.30, 3.67, 3.60, 3.35, 2.95, 2.70, 2.40, 2.30, 2.45, 2.65, 2.85, 3.10,
    3.28, 3.53, 3.48, 3.30, 2.92, 2.65, 2.45, 2.52, 2.60, 2.72, 2.95, 3.20,
    3.45, 3.70, 3.68, 3.40, 3.05, 2.72, 2.50, 2.42, 2.55, 2.70, 2.88, 3.05,
    3.20, 3.32, 3.30, 3.10, 2.85, 2.62, 2.48, 2.40, 2.50, 2.68, 2.92, 3.15,
    3.38, 3.40, 3.50, 3.30, 2.95, 2.65, 2.45, 2.40, 2.52, 2.70, 2.90, 3.10,
    3.30, 3.50, 3.48, 3.25, 2.90, 2.62, 2.42, 2.38, 2.48, 2.66, 2.85, 3.12,
    3.40, 3.68, 3.55, 3.28, 2.92, 2.62, 2.45, 2.40, 2.50, 2.65, 2.88, 3.05,
    3.20, 3.30, 3.22, 3.05, 2.80, 2.58, 2.42, 2.38, 2.48, 2.62, 2.85, 3.05,
    3.25, 3.42, 3.38, 3.15, 2.85, 2.60, 2.40, 2.35, 2.45, 2.65, 2.88, 3.05,
    3.20, 3.35, 3.30, 3.10, 2.80, 2.55, 2.40, 2.35, 2.45, 2.62, 2.85, 3.00,
    3.20, 3.40, 3.32, 3.10, 2.78, 2.55, 2.38, 2.32, 2.42, 2.60, 2.80, 2.95,
]
PU_CO = [
    2.95, 3.20, 3.15, 3.00, 2.70, 2.45, 2.28, 2.22, 2.30, 2.45, 2.62, 2.80,
    3.00, 3.10, 3.05, 2.88, 2.60, 2.40, 2.28, 2.22, 2.32, 2.50, 2.65, 2.80,
    3.05, 3.30, 3.32, 3.12, 2.82, 2.55, 2.35, 2.28, 2.35, 2.52, 2.70, 2.90,
    3.05, 3.10, 3.08, 2.95, 2.70, 2.45, 2.20, 1.97, 2.25, 2.45, 2.62, 2.82,
    2.95, 3.20, 3.18, 3.00, 2.68, 2.42, 2.30, 2.35, 2.40, 2.55, 2.72, 2.95,
    3.15, 3.40, 3.38, 3.15, 2.80, 2.50, 2.35, 2.30, 2.40, 2.52, 2.70, 2.85,
    2.92, 3.05, 3.02, 2.88, 2.65, 2.45, 2.32, 2.25, 2.35, 2.50, 2.72, 2.90,
    3.05, 3.25, 3.28, 3.05, 2.72, 2.45, 2.30, 2.25, 2.35, 2.52, 2.70, 2.88,
    3.00, 3.20, 3.15, 2.98, 2.68, 2.42, 2.28, 2.22, 2.32, 2.48, 2.68, 2.92,
    3.10, 3.32, 3.25, 3.02, 2.72, 2.45, 2.30, 2.25, 2.35, 2.50, 2.70, 2.85,
    2.95, 3.05, 3.00, 2.85, 2.62, 2.42, 2.28, 2.22, 2.32, 2.48, 2.68, 2.85,
    3.00, 3.02, 3.05, 2.90, 2.65, 2.42, 2.28, 2.20, 2.30, 2.48, 2.70, 2.88,
    2.95, 3.05, 3.02, 2.88, 2.62, 2.40, 2.25, 2.20, 2.30, 2.45, 2.68, 2.82,
    2.98, 2.95, 3.00, 2.85, 2.60, 2.38, 2.25, 2.18, 2.28, 2.42, 2.62, 2.78,
]
MU_CO = [
    2.95, 3.20, 3.12, 2.95, 2.62, 2.35, 2.15, 2.10, 2.20, 2.40, 2.60, 2.78,
    2.98, 3.05, 3.00, 2.85, 2.55, 2.32, 2.18, 2.12, 2.22, 2.45, 2.62, 2.78,
    3.00, 3.25, 3.30, 3.08, 2.75, 2.48, 2.28, 2.18, 2.25, 2.45, 2.65, 2.85,
    3.00, 3.15, 3.05, 2.90, 2.62, 2.38, 2.15, 2.05, 2.18, 2.38, 2.58, 2.78,
    2.90, 3.10, 3.08, 2.92, 2.60, 2.35, 2.22, 2.28, 2.32, 2.48, 2.65, 2.88,
    3.05, 3.25, 3.22, 3.00, 2.70, 2.42, 2.25, 2.18, 2.28, 2.42, 2.62, 2.78,
    2.85, 2.98, 2.95, 2.80, 2.58, 2.38, 2.22, 2.15, 2.25, 2.42, 2.65, 2.82,
    2.98, 3.12, 3.15, 2.95, 2.62, 2.38, 2.22, 2.15, 2.25, 2.42, 2.62, 2.80,
    2.92, 3.22, 3.10, 2.90, 2.58, 2.32, 2.18, 2.12, 2.22, 2.40, 2.60, 2.85,
    3.00, 3.12, 3.05, 2.88, 2.60, 2.35, 2.20, 2.15, 2.25, 2.40, 2.60, 2.78,
    2.85, 3.02, 2.95, 2.78, 2.52, 2.32, 2.18, 2.12, 2.22, 2.38, 2.58, 2.75,
    2.88, 3.02, 2.98, 2.82, 2.55, 2.32, 2.15, 2.10, 2.20, 2.38, 2.60, 2.78,
    2.85, 3.00, 2.95, 2.80, 2.52, 2.30, 2.15, 2.10, 2.18, 2.35, 2.58, 2.72,
    2.85, 2.95, 2.92, 2.75, 2.48, 2.28, 2.12, 2.08, 2.15, 2.32, 2.52, 2.68,
]

# ---------------- trend lines (value at start 2005.0 and end 2019.0) ----------------
TREND_A = [(3.95, 4.67), (15.3, 11.5)]
TREND_B = [(5.4, 1.9), (8.8, 3.1)]
TREND_C = [(2.66, 2.44), (2.93, 2.68)]
TREND_D = [(1.05, 1.75), (1.75, 2.87), (1.80, 2.78), (2.45, 3.29), (1.25, 1.95)]
TREND_E = [(4.26, 1.74), (7.46, 3.54), (8.29, 3.11), (8.94, 3.06), (7.34, 4.26)]
TREND_F = [(2.54, 2.39), (2.86, 2.71), (2.98, 2.81), (2.69, 2.56), (2.71, 2.47)]

# ---------------- annotation texts ----------------
ANN_A = ["+0.05±0.02 (+1.1±0.3% yr⁻¹)", "−0.27±0.08 (−1.7±0.5% yr⁻¹)"]
ANN_B = ["−0.27±0.04 (−5.0±0.8% yr⁻¹)", "−0.41±0.09 (−4.7±1.1% yr⁻¹)"]
ANN_C = ["−0.016±0.002 (−0.6±0.1% yr⁻¹)", "−0.018±0.003 (−0.6±0.1% yr⁻¹)"]
ANN_D = ["+0.05±0.01 (+3.6±0.6% yr⁻¹)", "+0.08±0.02 (+4.1±0.8% yr⁻¹)",
         "+0.07±0.02 (+3.4±0.8% yr⁻¹)", "+0.06±0.02 (+2.1±0.8% yr⁻¹)",
         "+0.05±0.02 (+3.0±1.0% yr⁻¹)"]
ANN_E = ["−0.18±0.03 (−4.4±0.7% yr⁻¹)", "−0.28±0.08 (−3.8±1.1% yr⁻¹)",
         "−0.37±0.09 (−4.6±1.2% yr⁻¹)", "−0.42±0.10 (−4.8±1.1% yr⁻¹)",
         "−0.22±0.08 (−3.1±1.1% yr⁻¹)"]
ANN_F = ["−0.011±0.002 (−0.4±0.1% yr⁻¹)", "−0.011±0.003 (−0.4±0.1% yr⁻¹)",
         "−0.012±0.004 (−0.4±0.1% yr⁻¹)", "−0.009±0.003 (−0.3±0.1% yr⁻¹)",
         "−0.017±0.003 (−0.6±0.1% yr⁻¹)"]

SK_NAMES = ["Entire South Korea", "Seoul"]
NK_NAMES = ["Entire North Korea", "Pyongyang", "Nampo", "Pukchang", "Munchon"]
SK_COLORS = [C_SK, C_SE]
NK_COLORS = [C_NK, C_PY, C_NA, C_PU, C_MU]

# ---------------- layout ----------------
W_L, W_R, H = 529, 520, 230.5
X_LEFT = [2005.0, 2019.0]
X_RIGHT = [2005.0, 2005.0 + 14.0 * W_R / W_L]
ONE = pd.DataFrame({"k": [0]})


def sc(dom):
    return alt.Scale(domain=list(dom), nice=False, zero=False)


def txt(s, x, y, color="black", size=16.5, align="left", angle=0, weight="bold"):
    return alt.Chart(ONE).mark_text(
        font=FONT, fontSize=size, fontWeight=weight, color=color,
        align=align, baseline="middle", angle=angle
    ).encode(x=alt.value(x), y=alt.value(y), text=alt.value(s))


def box(x0, x1, y0, y1):
    return alt.Chart(ONE).mark_rect(fill="white", stroke="black", strokeWidth=1.5).encode(
        x=alt.value(x0), x2=alt.value(x1), y=alt.value(y0), y2=alt.value(y1))


def axis_layer(xd, yd, xaxis=None, yaxis=None):
    df = pd.DataFrame({"t": [xd[0]], "v": [yd[0]]})
    return alt.Chart(df).mark_point(opacity=0).encode(
        x=alt.X("t:Q", scale=sc(xd), axis=xaxis),
        y=alt.Y("v:Q", scale=sc(yd), axis=yaxis))


def tick_axis(orient, values, size, labels=False, fmt="d"):
    kw = dict(orient=orient, values=values, tickSize=size, offset=-size, domain=False,
              grid=False, labels=labels, ticks=True, tickColor="black", tickWidth=1.1,
              title=None)
    if labels:
        kw.update(labelFont=FONT, labelFontSize=18, labelColor="black", labelPadding=5,
                  labelFlush=False, labelOverlap=False, format=fmt)
    return alt.Axis(**kw)


def dom_axis(orient):
    return alt.Axis(orient=orient, domain=True, domainColor="black", domainWidth=1.5,
                    ticks=False, labels=False, grid=False, title=None)


XLAB_AXIS = alt.Axis(orient="bottom", values=[y + 0.5 for y in LABEL_YEARS], ticks=False,
                     domain=False, grid=False, labelExpr="'' + floor(datum.value)",
                     labelFont=FONT, labelFontSize=18, labelColor="black", labelPadding=8,
                     labelFlush=False, labelOverlap=False, title=None)


def panel(vals, trends, names, colors, ydom, ymaj, ymin, fmt, left, bottom,
          label, header=None, ytitle=None, extra=()):
    W = W_L if left else W_R
    xd = X_LEFT if left else X_RIGHT
    layers = []
    for v, (t0, t1), nm, col in zip(vals, trends, names, colors):
        df = pd.DataFrame({"t": TIME, "v": v, "series": nm})
        xe = alt.X("t:Q", scale=sc(xd), axis=None)
        ye = alt.Y("v:Q", scale=sc(ydom), axis=None)
        base = alt.Chart(df).encode(x=xe, y=ye)
        layers.append(base.mark_line(color=col, strokeWidth=1, strokeDash=[4, 2],
                                     opacity=0.7, clip=True))
        layers.append(base.mark_circle(color=col, size=21, opacity=1, clip=True))
        tdf = pd.DataFrame({"t": TREND_T, "v": [t0, t1]})
        layers.append(alt.Chart(tdf).mark_line(color=col, strokeWidth=6, clip=True)
                      .encode(x=xe, y=ye))
    # axes
    layers.append(axis_layer(xd, ydom, tick_axis("bottom", TICK_YEARS, 5),
                             tick_axis("left", ymaj, 10, labels=True, fmt=fmt)))
    layers.append(axis_layer(xd, ydom, tick_axis("top", TICK_YEARS, 5),
                             tick_axis("left", ymin, 5)))
    layers.append(axis_layer(xd, ydom, XLAB_AXIS if bottom else None,
                             tick_axis("right", ymaj, 10) if left else None))
    layers.append(axis_layer(xd, ydom, dom_axis("bottom"),
                             tick_axis("right", ymin, 5) if left else None))
    layers.append(axis_layer(xd, ydom, dom_axis("top"), dom_axis("left")))
    if left:
        layers.append(axis_layer(xd, ydom, None, dom_axis("right")))
    # texts
    layers.extend(extra)
    layers.append(txt(label, 3, -15, size=21))
    if header:
        layers.append(txt(header, W_L / 2, -24, size=25, align="center"))
    if ytitle:
        layers.append(txt(ytitle[0], -88, H / 2, size=24, align="center", angle=270))
        layers.append(txt(ytitle[1], -58, H / 2 - 9, size=24, align="center", angle=270))
    return alt.layer(*layers).properties(width=W, height=H).resolve_axis(
        x="independent", y="independent")


UNITS15 = "(10¹⁵ molecules cm⁻²)"
UNITS18 = "(10¹⁸ molecules cm⁻²)"

# y ticks
MAJ_A = [0, 10, 20, 30, 40]
MIN_A = [v for v in range(0, 41, 2) if v % 10]
MAJ_D = [0, 5, 10, 15]
MIN_D = [v for v in range(0, 16) if v % 5]
MAJ_B = [-10, 0, 10, 20, 30, 40, 50]
MIN_B = [v for v in range(-14, 51, 2) if v % 10]
MAJ_C = [2.0, 2.5, 3.0, 3.5, 4.0, 4.5]
MIN_C = [i / 10 for i in range(20, 47) if i % 5]

# legends & annotations
ext_a = [box(17, 164, 10, 59), txt("Entire South Korea", 24, 24.7, C_SK, 15),
         txt("Seoul", 24, 45.3, C_SE, 15),
         txt(ANN_A[0], 505, 24.7, C_SK, align="right"),
         txt(ANN_A[1], 505, 45.7, C_SE, align="right")]
ext_b = [txt(ANN_B[0], 505, 24.5, C_SK, align="right"),
         txt(ANN_B[1], 505, 45.5, C_SE, align="right")]
ext_c = [txt(ANN_C[0], 505, 24.7, C_SK, align="right"),
         txt(ANN_C[1], 505, 46, C_SE, align="right")]
LEG_Y = [24.7, 46.0, 67.3, 88.6, 109.9]
ext_d = [box(365, 512, 10, 122)]
for i, (nm, col) in enumerate(zip(NK_NAMES, NK_COLORS)):
    ext_d.append(txt(nm, 505, LEG_Y[i], col, 15, align="right"))
    ext_d.append(txt(ANN_D[i], 24.5, LEG_Y[i], col))
ext_e = [txt(ANN_E[0], 24.5, 24.5, C_NK), txt(ANN_E[1], 24.5, 45.5, C_PY),
         txt(ANN_E[2], 505, 24.5, C_NA, align="right"),
         txt(ANN_E[3], 505, 45.5, C_PU, align="right"),
         txt(ANN_E[4], 505, 67.5, C_MU, align="right")]
ext_f = [txt(ANN_F[0], 24.5, 24.7, C_NK), txt(ANN_F[1], 24.5, 46, C_PY),
         txt(ANN_F[2], 505, 24.7, C_NA, align="right"),
         txt(ANN_F[3], 505, 46, C_PU, align="right"),
         txt(ANN_F[4], 505, 68, C_MU, align="right")]

pa = panel([SK_NO2, SEOUL_NO2], TREND_A, SK_NAMES, SK_COLORS, (-1, 41), MAJ_A, MIN_A, "d",
           True, False, "(a)", "South Korea", ("NO₂ TVCD", UNITS15), ext_a)
pd_ = panel([NK_NO2, PY_NO2, NA_NO2, PU_NO2, MU_NO2], TREND_D, NK_NAMES, NK_COLORS,
            (-0.36, 16.0), MAJ_D, MIN_D, "d", False, False, "(d)", "North Korea", None, ext_d)
pb = panel([SK_SO2, SEOUL_SO2], TREND_B, SK_NAMES, SK_COLORS, (-14.8, 51.7), MAJ_B, MIN_B, "d",
           True, False, "(b)", None, ("SO₂ VCD", UNITS15), ext_b)
pe = panel([NK_SO2, PY_SO2, NA_SO2, PU_SO2, MU_SO2], TREND_E, NK_NAMES, NK_COLORS,
           (-14.8, 51.7), MAJ_B, MIN_B, "d", False, False, "(e)", None, None, ext_e)
pc = panel([SK_CO, SEOUL_CO], TREND_C, SK_NAMES, SK_COLORS, (1.91, 4.70), MAJ_C, MIN_C, ".1f",
           True, True, "(c)", None, ("CO VCD", UNITS18), ext_c)
pf = panel([NK_CO, PY_CO, NA_CO, PU_CO, MU_CO], TREND_F, NK_NAMES, NK_COLORS,
           (1.91, 4.70), MAJ_C, MIN_C, ".1f", False, True, "(f)", None, None, ext_f)

chart = alt.concat(pa, pd_, pb, pe, pc, pf, columns=2,
                   spacing={"row": 40, "column": 47}, bounds="flush").properties(
    padding={"left": 8, "top": 3, "right": 0, "bottom": 0}
).configure_view(strokeOpacity=0).configure(font=FONT, background="white")

chart.save("out.html", embed_options={"renderer": "svg", "actions": False})
